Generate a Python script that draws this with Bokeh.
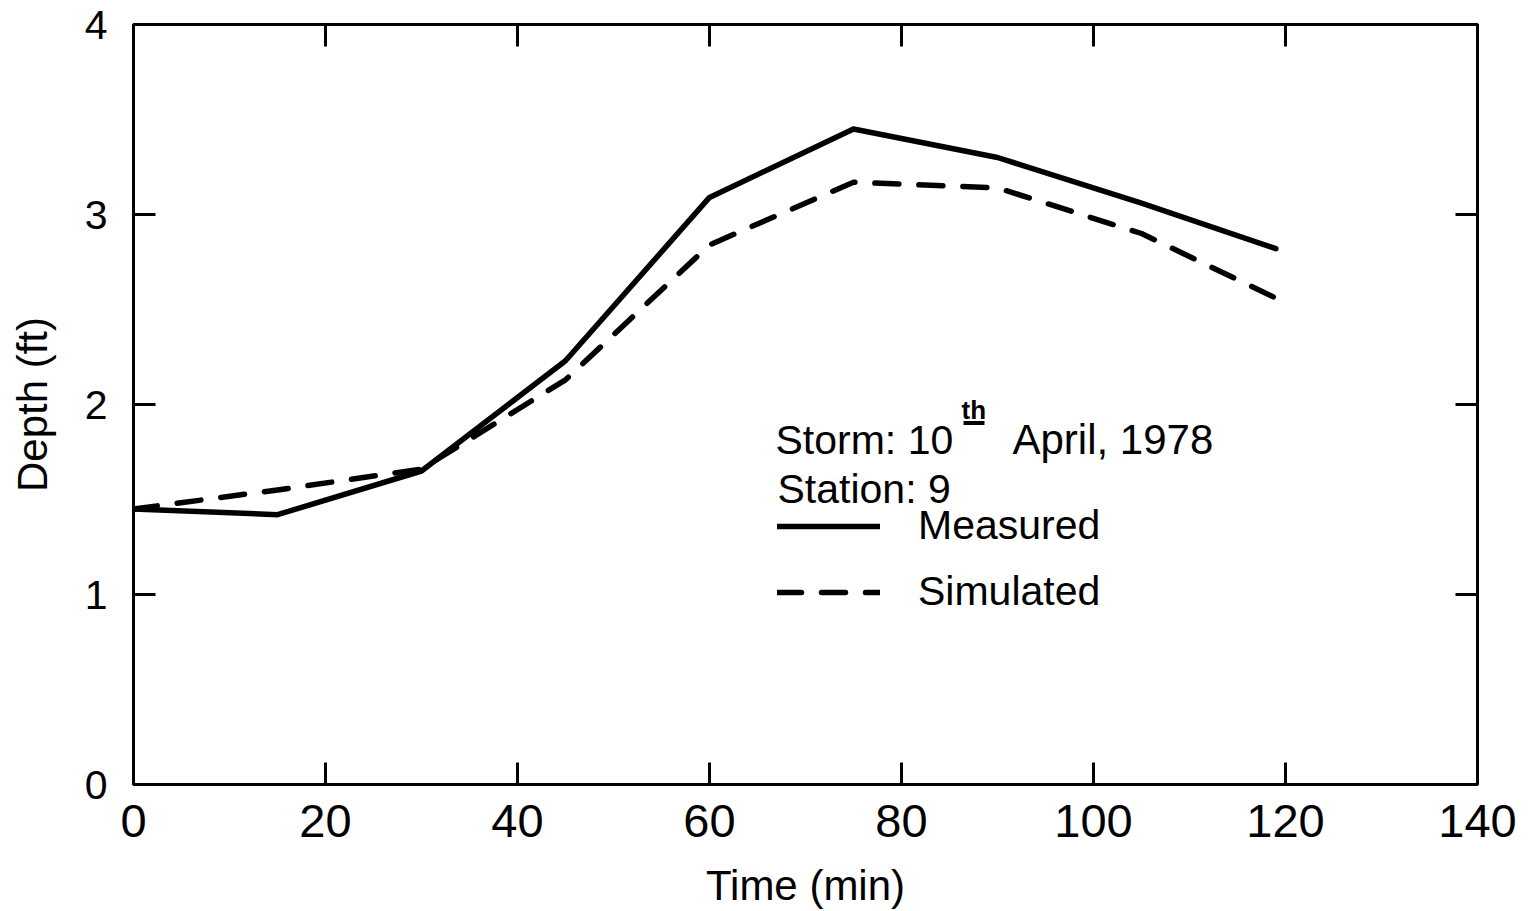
from bokeh.plotting import figure
from bokeh.models import (FixedTicker, LinearAxis, Label, Legend, LegendItem,
                          BoxAnnotation, Range1d)
from bokeh.embed import file_html
from bokeh.resources import INLINE

# ---- data ----
time_min = [0, 15, 30, 45, 60, 75, 90, 105, 119]
measured = [1.45, 1.42, 1.65, 2.23, 3.09, 3.45, 3.30, 3.06, 2.82]
simulated = [1.45, 1.55, 1.66, 2.13, 2.84, 3.17, 3.14, 2.90, 2.56]

x_ticks = [0, 20, 40, 60, 80, 100, 120, 140]
y_ticks = [0, 1, 2, 3, 4]

FONT = "Liberation Sans"

p = figure(width=1539, height=911, output_backend="svg", toolbar_location=None,
           x_range=Range1d(0, 140), y_range=Range1d(0, 4),
           x_axis_type=None, y_axis_type=None,
           min_border_left=133, min_border_right=62,
           min_border_top=24, min_border_bottom=126)
p.background_fill_color = "white"
p.border_fill_color = "white"
p.outline_line_color = "black"
p.outline_line_width = 3
p.xgrid.visible = False
p.ygrid.visible = False


def style_axis(ax, show_labels, ticks, size="47px"):
    ax.axis_line_width = 3
    ax.axis_line_color = "black"
    ax.major_tick_line_width = 3
    ax.major_tick_line_color = "black"
    ax.major_tick_in = 22
    ax.major_tick_out = 0
    ax.minor_tick_in = 0
    ax.minor_tick_out = 0
    ax.major_label_text_font = FONT
    ax.major_label_text_color = "black"
    ax.axis_label_text_font = FONT
    ax.axis_label_text_color = "black"
    ax.axis_label_text_font_style = "normal"
    if show_labels:
        ax.major_label_text_font_size = size
        ax.axis_label_text_font_size = "42px"
    else:
        ax.major_label_text_font_size = "1px"
        ax.major_label_standoff = 0
        ax.major_label_overrides = {t: "" for t in ticks}


xb = LinearAxis(ticker=FixedTicker(ticks=x_ticks), axis_label="Time (min)")
style_axis(xb, True, x_ticks, "47px")
xb.major_label_standoff = 20
xb.axis_label_standoff = 22
p.add_layout(xb, "below")

yl = LinearAxis(ticker=FixedTicker(ticks=y_ticks), axis_label="Depth (ft)")
style_axis(yl, True, y_ticks, "41px")
yl.major_label_standoff = 26
yl.axis_label_standoff = 26
yl.major_label_text_line_height = 1.0
p.add_layout(yl, "left")

xt = LinearAxis(ticker=FixedTicker(ticks=x_ticks))
style_axis(xt, False, x_ticks)
p.add_layout(xt, "above")

yr = LinearAxis(ticker=FixedTicker(ticks=y_ticks))
style_axis(yr, False, y_ticks)
p.add_layout(yr, "right")

r_meas = p.line(time_min, measured, line_color="black", line_width=5.5,
                line_join="round", line_cap="round")
r_sim = p.line(time_min, simulated, line_color="black", line_width=5.5,
               line_dash="24 20", line_join="round", line_cap="round")

legend = Legend(items=[LegendItem(label="Measured", renderers=[r_meas]),
                       LegendItem(label="Simulated", renderers=[r_sim])],
                location=(644, 169), orientation="vertical",
                glyph_width=103, glyph_height=40, label_height=40,
                label_standoff=38, spacing=19, padding=0, margin=0,
                label_text_font=FONT, label_text_font_size="41px",
                label_text_color="black",
                border_line_alpha=0, background_fill_alpha=0)
p.add_layout(legend)


def px_x(px):
    return (px - 133) / 9.6


def px_y(py):
    return (785 - py) / 190.25


lab_kw = dict(text_font=FONT, text_color="black", text_baseline="alphabetic")
p.add_layout(Label(x=px_x(775), y=px_y(440), text="Storm: 10",
                   text_font_size="41px", **lab_kw))
p.add_layout(Label(x=px_x(961), y=px_y(410), text="th",
                   text_font_size="26px", text_font_style="bold", **lab_kw))
p.add_layout(BoxAnnotation(left=px_x(963), right=px_x(984),
                           bottom=px_y(425), top=px_y(421),
                           fill_color="black", fill_alpha=1, line_alpha=0))
p.add_layout(Label(x=px_x(1012), y=px_y(440), text="April, 1978",
                   text_font_size="42px", **lab_kw))
p.add_layout(Label(x=px_x(777), y=px_y(489), text="Station: 9",
                   text_font_size="41px", **lab_kw))

open("out.html", "w").write(file_html(p, INLINE))
